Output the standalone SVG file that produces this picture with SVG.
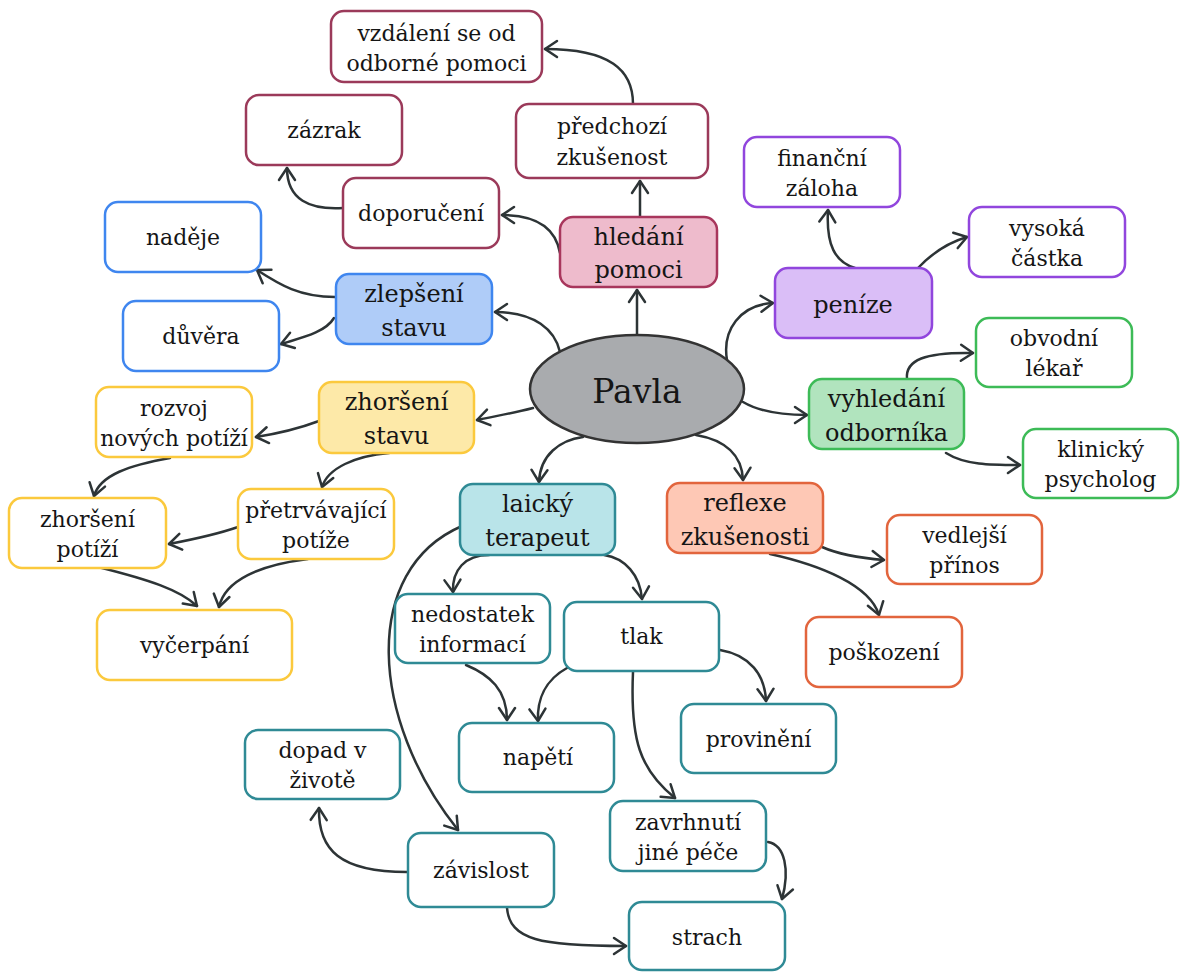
<svg xmlns="http://www.w3.org/2000/svg" width="1185" height="972" viewBox="0 0 1185 972">
<style>
rect{stroke-width:2.5}
text{font-family:"DejaVu Serif","Liberation Serif",serif;font-size:22px;fill:#151515;text-anchor:middle}
.big{font-size:24px}
.m{fill:#fff;stroke:#9B3A5A}
.mf{fill:#EEBBCC;stroke:#A8365C}
.p{fill:#fff;stroke:#9146DD}
.pf{fill:#DABEF7;stroke:#9146DD}
.b{fill:#fff;stroke:#3F86EF}
.bf{fill:#AFCCF8;stroke:#3F86EF}
.y{fill:#fff;stroke:#FBC93D}
.yf{fill:#FDE9A8;stroke:#FBC93D}
.g{fill:#fff;stroke:#3DBB57}
.gf{fill:#B1E4BE;stroke:#3DBB57}
.o{fill:#fff;stroke:#E2653D}
.of{fill:#FEC8B5;stroke:#E2653D}
.t{fill:#fff;stroke:#2F8A95}
.tf{fill:#B9E4E9;stroke:#2F8A95}
#edges path{fill:none;stroke:#2d3436;stroke-width:2.5;stroke-linecap:round;marker-end:url(#a)}
</style>
<defs>
<marker id="a" viewBox="-15 -11 17 22" refX="0" refY="0" markerWidth="17" markerHeight="22" markerUnits="userSpaceOnUse" orient="auto">
<path d="M-12,-8 L0,0 L-12,8" fill="none" stroke="#2d3436" stroke-width="2.5" stroke-linecap="round" stroke-linejoin="round"/>
</marker>
</defs>
<rect width="1185" height="972" fill="#fff"/>
<g id="edges">
<path d="M637,336 L637,290"/>
<path d="M640,217 L640,181"/>
<path d="M633,104 C633,70 610,49 545,49"/>
<path d="M560,253 C556,230 540,215 502,215"/>
<path d="M343,208 C310,210 287,200 287,168"/>
<path d="M560,352 C555,330 535,312 495,312"/>
<path d="M335,297 C300,297 280,285 257,270"/>
<path d="M334,318 C325,333 300,338 281,344"/>
<path d="M533,408 C510,414 495,416 477,420"/>
<path d="M319,421 C295,430 275,434 256,437"/>
<path d="M389,453 C355,456 328,468 322,487"/>
<path d="M170,458 C130,465 100,475 94,496"/>
<path d="M238,527 C215,535 190,540 169,544"/>
<path d="M98,567 C150,580 180,590 197,606"/>
<path d="M308,559 C260,565 225,580 219,607"/>
<path d="M583,437 C560,440 540,455 539,482"/>
<path d="M696,435 C725,440 742,455 743,480"/>
<path d="M727,360 C722,330 740,305 773,303"/>
<path d="M743,402 C760,412 785,415 807,415"/>
<path d="M855,268 C835,262 826,245 828,210"/>
<path d="M918,268 C935,250 950,242 967,237"/>
<path d="M907,379 C905,360 925,352 973,353"/>
<path d="M946,453 C965,465 990,465 1020,465"/>
<path d="M822,547 C840,555 860,558 884,560"/>
<path d="M770,554 C820,565 870,585 879,615"/>
<path d="M489,555 C465,555 452,570 453,592"/>
<path d="M604,555 C625,558 640,575 642,599"/>
<path d="M462,526 C360,570 370,720 458,830"/>
<path d="M466,665 C490,675 507,690 507,720"/>
<path d="M567,668 C545,680 537,700 538,721"/>
<path d="M633,672 C630,740 640,770 675,798"/>
<path d="M720,650 C750,655 765,675 766,701"/>
<path d="M768,842 C785,845 790,870 782,899"/>
<path d="M407,872 C340,872 318,850 319,808"/>
<path d="M507,908 C510,940 540,946 626,946"/>
</g>
<g id="vzdaleni"><rect class="m" x="331" y="11" width="211" height="71" rx="13"/><text x="436.5" y="41">vzdálení se od</text><text x="436.5" y="71">odborné pomoci</text></g>
<g id="zazrak"><rect class="m" x="246" y="95" width="156" height="70" rx="13"/><text x="324" y="138">zázrak</text></g>
<g id="predchozi"><rect class="m" x="516" y="104" width="192" height="74" rx="13"/><text x="612" y="134">předchozí</text><text x="612" y="165">zkušenost</text></g>
<g id="doporuceni"><rect class="m" x="343" y="178" width="156" height="70" rx="13"/><text x="421" y="221">doporučení</text></g>
<g id="hledani"><rect class="mf" x="560" y="217" width="157" height="70" rx="13"/><text class="big" x="638.5" y="245">hledání</text><text class="big" x="638.5" y="278">pomoci</text></g>
<g id="financni"><rect class="p" x="744" y="137" width="156" height="70" rx="13"/><text x="822" y="166">finanční</text><text x="822" y="196">záloha</text></g>
<g id="vysoka"><rect class="p" x="969" y="207" width="156" height="70" rx="13"/><text x="1047" y="236">vysoká</text><text x="1047" y="266">částka</text></g>
<g id="penize"><rect class="pf" x="775" y="268" width="157" height="70" rx="13"/><text class="big" x="853" y="313">peníze</text></g>
<g id="nadeje"><rect class="b" x="105" y="202" width="156" height="70" rx="13"/><text x="183" y="245">naděje</text></g>
<g id="zlepseni"><rect class="bf" x="336" y="274" width="156" height="70" rx="13"/><text class="big" x="414" y="302">zlepšení</text><text class="big" x="414" y="336">stavu</text></g>
<g id="duvera"><rect class="b" x="123" y="301" width="156" height="70" rx="13"/><text x="201" y="344">důvěra</text></g>
<g id="rozvoj"><rect class="y" x="96" y="387" width="156" height="70" rx="13"/><text x="174" y="416">rozvoj</text><text x="174" y="446">nových potíží</text></g>
<g id="zhorseni-stavu"><rect class="yf" x="319" y="382" width="155" height="71" rx="13"/><text class="big" x="396.5" y="410">zhoršení</text><text class="big" x="396.5" y="444">stavu</text></g>
<g id="zhorseni-potizi"><rect class="y" x="9" y="498" width="157" height="70" rx="13"/><text x="87.5" y="527">zhoršení</text><text x="87.5" y="557">potíží</text></g>
<g id="pretrvavajici"><rect class="y" x="238" y="489" width="156" height="70" rx="13"/><text x="316" y="518">přetrvávající</text><text x="316" y="548">potíže</text></g>
<g id="vycerpani"><rect class="y" x="97" y="610" width="195" height="70" rx="13"/><text x="194.5" y="653">vyčerpání</text></g>
<g id="pavla"><ellipse cx="637" cy="389" rx="107" ry="54" fill="#A9ABAE" stroke="#333" stroke-width="2.5"/><text x="637" y="403" style="font-size:33px">Pavla</text></g>
<g id="laicky"><rect class="tf" x="460" y="484" width="155" height="71" rx="13"/><text class="big" x="537.5" y="512">laický</text><text class="big" x="537.5" y="546">terapeut</text></g>
<g id="reflexe"><rect class="of" x="667" y="483" width="156" height="70" rx="13"/><text class="big" x="745" y="511">reflexe</text><text class="big" x="745" y="545">zkušenosti</text></g>
<g id="vyhledani"><rect class="gf" x="809" y="379" width="155" height="70" rx="13"/><text class="big" x="886.5" y="407">vyhledání</text><text class="big" x="886.5" y="441">odborníka</text></g>
<g id="obvodni"><rect class="g" x="976" y="318" width="156" height="69" rx="13"/><text x="1054" y="346">obvodní</text><text x="1054" y="376">lékař</text></g>
<g id="klinicky"><rect class="g" x="1023" y="429" width="155" height="69" rx="13"/><text x="1100.5" y="457">klinický</text><text x="1100.5" y="487">psycholog</text></g>
<g id="vedlejsi"><rect class="o" x="887" y="515" width="155" height="69" rx="13"/><text x="964.5" y="543">vedlejší</text><text x="964.5" y="573">přínos</text></g>
<g id="poskozeni"><rect class="o" x="806" y="617" width="156" height="70" rx="13"/><text x="884" y="660">poškození</text></g>
<g id="nedostatek"><rect class="t" x="395" y="594" width="155" height="69" rx="13"/><text x="472.5" y="622">nedostatek</text><text x="472.5" y="652">informací</text></g>
<g id="tlak"><rect class="t" x="564" y="602" width="155" height="69" rx="13"/><text x="641.5" y="644">tlak</text></g>
<g id="napeti"><rect class="t" x="459" y="723" width="155" height="69" rx="13"/><text x="538" y="765">napětí</text></g>
<g id="provineni"><rect class="t" x="681" y="704" width="155" height="69" rx="13"/><text x="758.5" y="747">provinění</text></g>
<g id="dopad"><rect class="t" x="245" y="730" width="155" height="69" rx="13"/><text x="322.5" y="758">dopad v</text><text x="322.5" y="788">životě</text></g>
<g id="zavrhnuti"><rect class="t" x="610" y="801" width="156" height="70" rx="13"/><text x="688" y="830">zavrhnutí</text><text x="688" y="860">jiné péče</text></g>
<g id="zavislost"><rect class="t" x="408" y="833" width="146" height="74" rx="13"/><text x="481" y="878">závislost</text></g>
<g id="strach"><rect class="t" x="629" y="902" width="156" height="68" rx="13"/><text x="707" y="945">strach</text></g>
</svg>
